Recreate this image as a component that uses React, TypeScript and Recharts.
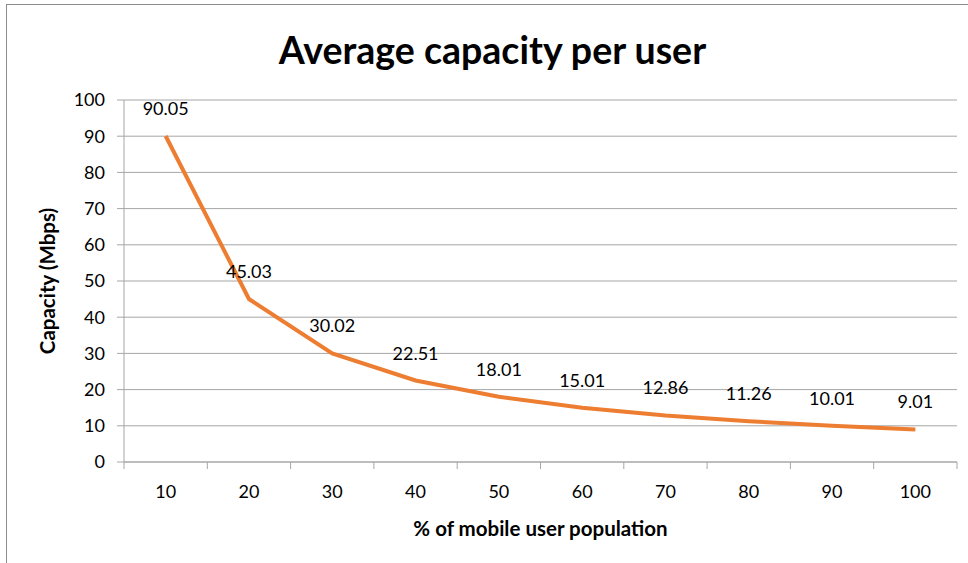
import React from 'react';
import { LineChart, Line, XAxis, YAxis, CartesianGrid, LabelList, Label } from 'recharts';

const populationPct = [10, 20, 30, 40, 50, 60, 70, 80, 90, 100];
const capacityMbps = [90.05, 45.03, 30.02, 22.51, 18.01, 15.01, 12.86, 11.26, 10.01, 9.01];
const yTicks = [0, 10, 20, 30, 40, 50, 60, 70, 80, 90, 100];
const xTicks = [5, 10, 15, 20, 25, 30, 35, 40, 45, 50, 55, 60, 65, 70, 75, 80, 85, 90, 95, 100, 105];

const data = populationPct.map((p, i) => ({ pop: p, cap: capacityMbps[i] }));

const FONT = 'Lato, "Open Sans", sans-serif';
const AXIS_COLOR = '#A6A6A6';

const XTick = (props: any) => {
  const { x, y, payload } = props;
  const v = payload.value;
  if (v % 10 === 0) {
    return (
      <text x={x} y={y} dy={14} textAnchor="middle" fontSize={18} fill="#000" fontFamily={FONT}>
        {v}
      </text>
    );
  }
  // boundary tick mark, drawn from the axis line downward
  return <line x1={x} x2={x} y1={y - 22} y2={y - 15} stroke={AXIS_COLOR} strokeWidth={1} />;
};

export default function App() {
  return (
    <div style={{ position: 'absolute', left: 0, top: 0, width: 968, height: 563, background: '#fff', overflow: 'hidden' }}>
      <div
        style={{
          position: 'absolute',
          left: 6,
          top: 4,
          width: 1000,
          height: 600,
          border: '1px solid #8C8C8C',
          boxSizing: 'border-box',
        }}
      />
      <div
        style={{
          position: 'absolute',
          left: 0,
          top: 27,
          width: 985,
          textAlign: 'center',
          fontFamily: FONT,
          fontWeight: 700,
          fontSize: 37.5,
          lineHeight: '45px',
          color: '#000',
        }}
      >
        Average capacity per user
      </div>
      <div style={{ position: 'absolute', left: 0, top: 0 }}>
        <LineChart width={968} height={563} data={data} margin={{ top: 100, right: 11, bottom: 0, left: 0 }}>
          <CartesianGrid vertical={false} stroke={AXIS_COLOR} strokeWidth={1} />
          <XAxis
            dataKey="pop"
            type="number"
            domain={[5, 105]}
            ticks={xTicks}
            interval={0}
            tickLine={false}
            axisLine={{ stroke: AXIS_COLOR }}
            tick={<XTick />}
            tickSize={7}
            tickMargin={15}
            height={101}
          >
            <Label
              value="% of mobile user population"
              position="insideBottom"
              offset={27}
              style={{ fontFamily: FONT, fontWeight: 700, fontSize: 20.5, fill: '#000' }}
            />
          </XAxis>
          <YAxis
            domain={[0, 100]}
            ticks={yTicks}
            interval={0}
            width={124}
            tickSize={7}
            tickMargin={12}
            axisLine={{ stroke: AXIS_COLOR }}
            tickLine={{ stroke: AXIS_COLOR }}
            tick={{ fontSize: 18, fill: '#000', fontFamily: FONT }}
          >
            <Label
              value="Capacity (Mbps)"
              angle={-90}
              position="insideLeft"
              offset={48}
              style={{ fontFamily: FONT, fontWeight: 700, fontSize: 20.5, fill: '#000', textAnchor: 'middle' }}
            />
          </YAxis>
          <Line
            type="linear"
            dataKey="cap"
            stroke="#ED7D31"
            strokeWidth={4}
            dot={false}
            isAnimationActive={false}
          >
            <LabelList
              dataKey="cap"
              position="top"
              offset={21}
              style={{ fontFamily: FONT, fontSize: 18, fill: '#000' }}
              formatter={(v: any) => Number(v).toFixed(2)}
            />
          </Line>
        </LineChart>
      </div>
    </div>
  );
}
